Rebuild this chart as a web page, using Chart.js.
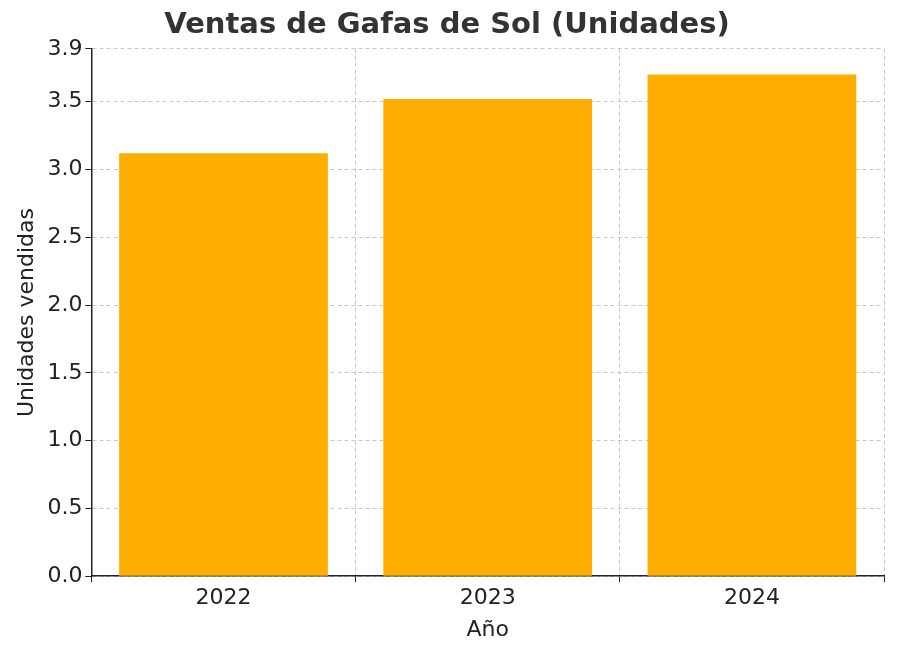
<!DOCTYPE html>
<html>
<head>
<meta charset="utf-8">
<script src="https://cdn.jsdelivr.net/npm/chart.js@4"></script>
<style>
  html, body { margin: 0; padding: 0; background: #fff; }
  #wrap { width: 900px; height: 655px; }
</style>
</head>
<body>
<div id="wrap"><canvas id="chart"></canvas></div>
<script>
const years = ["2022", "2023", "2024"]
const unitsSold = [3.12, 3.52, 3.70]

const font = "'DejaVu Sans', sans-serif"

new Chart(document.getElementById("chart"), {
  type: "bar",
  data: {
    labels: years,
    datasets: [{
      data: unitsSold,
      backgroundColor: "#ffae00",
      barPercentage: 0.79,
      categoryPercentage: 1
    }]
  },
  options: {
    responsive: true,
    maintainAspectRatio: false,
    animation: false,
    layout: { padding: { left: 10, right: 16, top: 4, bottom: 8 } },
    plugins: {
      legend: { display: false },
      tooltip: { enabled: false },
      title: {
        display: true,
        text: "Ventas de Gafas de Sol (Unidades)",
        color: "#333",
        font: { family: font, size: 29, weight: "bold" },
        padding: { top: 4, bottom: 6 }
      }
    },
    scales: {
      x: {
        grid: { color: "#c8c8c8", tickColor: "#222", tickLength: 6, drawOnChartArea: true },
        border: { color: "#222", width: 1.5, dash: [4, 3] },
        ticks: { color: "#222", font: { family: font, size: 22 } },
        title: { display: true, text: "Año", color: "#222", font: { family: font, size: 22 }, padding: { top: 2 } }
      },
      y: {
        min: 0,
        max: 3.89,
        grid: { color: "#c8c8c8", tickColor: "#222", tickLength: 6 },
        border: { color: "#222", width: 1.5, dash: [4, 3] },
        ticks: {
          stepSize: 0.5,
          color: "#222",
          font: { family: font, size: 22 },
          callback: v => v.toFixed(1)
        },
        title: { display: true, text: "Unidades vendidas", color: "#222", font: { family: font, size: 22 } }
      }
    }
  }
})
</script>
</body>
</html>
